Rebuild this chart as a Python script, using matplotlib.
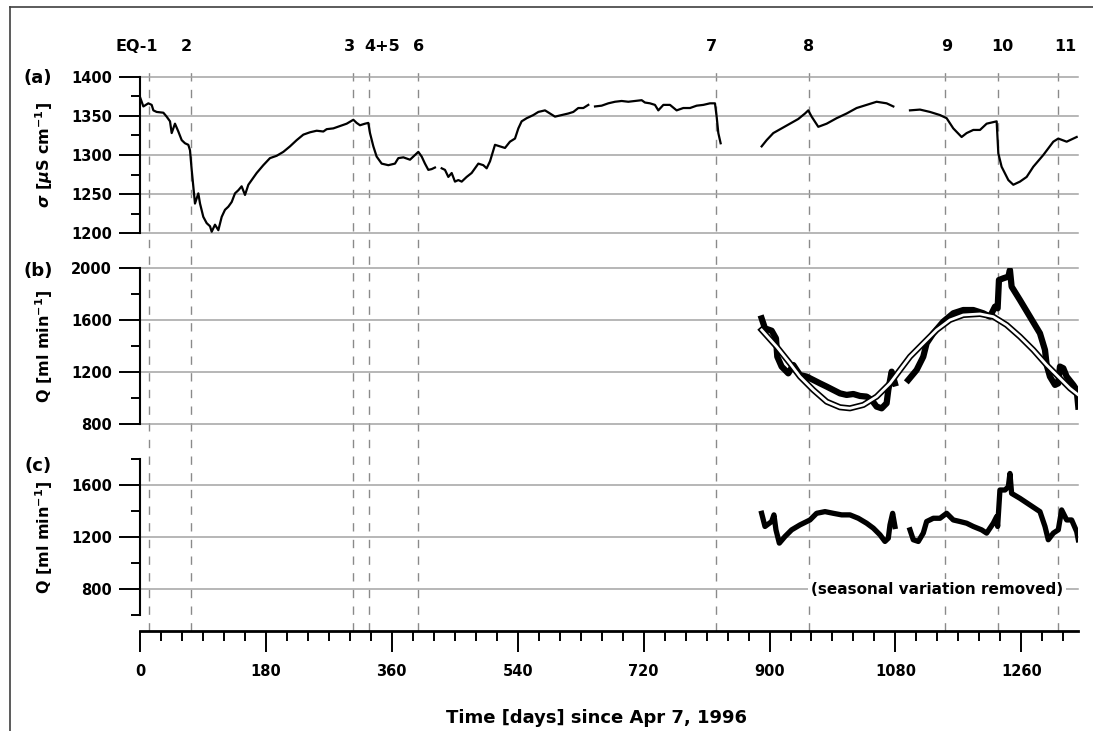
import numpy as np
import matplotlib
matplotlib.use("Agg")
import matplotlib.pyplot as plt
from matplotlib.lines import Line2D
from matplotlib.ticker import MultipleLocator, FixedLocator

nan = np.nan

# Evenements (jours depuis le 7 avril 1996)
jours_evenements = [13, 72.5, 305, 328, 398, 823, 956.5, 1151, 1226.5, 1313]
noms_evenements = ["EQ-1", "2", "3", "4+5", "6", "7", "8", "9", "10", "11"]

# (a) conductivite electrique [uS/cm]
jours_sigma = [0, 4.8, 11.9, 16.7, 19.1, 23.8, 33.4, 38.1, 42.9, 45.3, 50.0, 54.8, 59.6,
               64.3, 69.1, 71.5, 73.9, 76.2, 78.6, 83.4, 85.8, 90.5, 95.3, 100.1, 102.5,
               107.2, 112, 116.8, 121.5, 126.3, 131.1, 135.8, 140.6, 145.3, 150.1, 154.9,
               159.6, 166.8, 176.3, 185.8, 195.4, 204.9, 214.4, 224, 233.5, 243, 252.6,
               262.1, 266.9, 276.4, 285.9, 295.5, 305, 309.7, 314.5, 321.7, 326.4, 328.8,
               333.6, 338.3, 345.5, 355, 364.5, 369.3, 376.5, 386, 393.1, 397.9, 402.7,
               407.4, 412.2, 417, 421.7, 426,
               431.3, 436, 440.8, 445.6, 450.3, 455.1, 459.9, 467, 474.1, 483.7, 490.8,
               495.6, 500.4, 507.5, 514.7, 521.8, 528.9, 536.1, 540.9, 545.6, 552.8,
               562.3, 569.5, 579, 586.1, 593.3, 602.8, 612.3, 619.5, 626.6, 633.8, 640.9, 645,
               650.5, 660, 669.5, 679.1, 688.6, 698.1, 707.6, 717.2, 721.9, 729.1, 736.2,
               741, 748.2, 757.7, 767.2, 776.7, 786.3, 795.8, 805.3, 814.9, 822, 824.4,
               826.8, 830.1, 860,
               888.7, 895.9, 905.4, 917.3, 929.2, 941.1, 950.7, 955.4, 960.2, 969.7,
               981.7, 995.9, 1010.2, 1024.5, 1038.8, 1053.1, 1067.4, 1077, 1090,
               1100.8, 1115.1, 1129.4, 1143.7, 1153.2, 1162.7, 1174.6, 1181.8, 1191.3,
               1200.9, 1210.4, 1224.7, 1227.1, 1231.8, 1241.4, 1248.5, 1258, 1267.6,
               1277.1, 1291.4, 1305.7, 1312.8, 1324.8, 1339.1]
sigma = [1374, 1362, 1366, 1364, 1357, 1355, 1354, 1349, 1343, 1328, 1340, 1330, 1319,
         1315, 1313, 1306, 1281, 1260, 1238, 1251, 1238, 1221, 1213, 1209, 1202,
         1211, 1204, 1221, 1230, 1234, 1240, 1251, 1255, 1260, 1249, 1262,
         1268, 1277, 1287, 1296, 1299, 1304, 1311, 1319, 1326, 1329, 1331,
         1330, 1333, 1334, 1337, 1340, 1345, 1341, 1338, 1340, 1341, 1328,
         1311, 1298, 1289, 1287, 1289, 1296, 1297, 1294, 1300, 1304, 1298,
         1289, 1281, 1282, 1284, nan,
         1283, 1281, 1272, 1277, 1266, 1268, 1266, 1272, 1277, 1289, 1287,
         1283, 1292, 1313, 1311, 1309, 1317, 1321, 1334, 1343, 1347,
         1351, 1355, 1357, 1353, 1349, 1351, 1353, 1355, 1360, 1360, 1364, nan,
         1362, 1363, 1366, 1368, 1369, 1368, 1369, 1370, 1367, 1366, 1364,
         1357, 1364, 1364, 1357, 1360, 1360, 1363, 1364, 1366, 1366, 1349,
         1328, 1315, nan,
         1311, 1319, 1328, 1334, 1340, 1346, 1353, 1357, 1349, 1336,
         1340, 1347, 1353, 1360, 1364, 1368, 1366, 1362, nan,
         1357, 1358, 1355, 1351, 1347, 1334, 1323, 1328, 1332,
         1332, 1340, 1343, 1302, 1285, 1268, 1262, 1266, 1272,
         1285, 1300, 1317, 1321, 1317, 1323]

# (b) debit Q [ml/min]
jours_debit = [888.7, 893.5, 903, 909.2, 911.1, 917.3, 926.8, 934, 943.5, 953, 962.6,
               972.1, 981.7, 991.2, 1000.7, 1010.2, 1019.8, 1029.3, 1038.8, 1046, 1053.1,
               1060.3, 1067.4, 1069.8, 1074.6, 1079.3, 1090,
               1098.4, 1110.3, 1119.8, 1124.6, 1134.1, 1148.4, 1162.7, 1177, 1191.3,
               1205.6, 1215.2, 1222.3, 1226.1, 1228, 1234.2, 1241.4, 1243.7, 1246.1,
               1258, 1272.3, 1286.6, 1293.8, 1296.2, 1300.9, 1308.1, 1312.8, 1315.2,
               1320, 1324.8, 1334.3, 1339.1, 1341.4]
debit = [1615, 1538, 1520, 1461, 1320, 1244, 1192, 1256, 1179, 1167, 1141,
         1115, 1090, 1064, 1038, 1026, 1033, 1018, 1013, 987, 936,
         923, 962, 1064, 1205, 1115, nan,
         1141, 1218, 1320, 1423, 1500, 1590, 1654, 1679, 1679,
         1654, 1628, 1705, 1692, 1910, 1923, 1936, 1987, 1859,
         1756, 1628, 1500, 1372, 1256, 1167, 1103, 1115, 1244,
         1231, 1167, 1103, 1064, 936]

# (b) variation saisonniere ajustee
jours_saison = [888.7, 910.2, 929.2, 943.5, 962.6, 981.7, 1000.7, 1015, 1034.1, 1053.1,
                1072.2, 1086.5, 1100.8, 1119.8, 1138.9, 1158, 1177, 1200.9, 1219.9,
                1239, 1258, 1277.1, 1296.2, 1315.2, 1329.5, 1341.4]
saison = [1526, 1397, 1269, 1167, 1064, 974, 931, 923, 949, 1013,
          1115, 1218, 1320, 1423, 1526, 1603, 1641, 1649, 1628,
          1564, 1474, 1372, 1256, 1154, 1077, 1026]

# (c) debit sans variation saisonniere [ml/min]
jours_residu = [888.7, 893.5, 903, 906.3, 909.2, 914, 922.1, 931.6, 943.5, 957.8, 967.3,
                979.3, 991.2, 1003.1, 1015, 1026.9, 1038.8, 1048.4, 1057.9, 1065, 1069.8,
                1072.2, 1076, 1079.3, 1090,
                1100.8, 1105.5, 1112.7, 1119.8, 1124.6, 1134.1, 1143.7, 1153.2, 1162.7,
                1172.3, 1181.8, 1191.3, 1203.2, 1210.4, 1219.9, 1224.7, 1226.1, 1229.4,
                1236.6, 1241.4, 1243.7, 1246.1, 1258, 1272.3, 1286.6, 1293.8, 1298.5,
                1305.7, 1312.8, 1317.6, 1324.8, 1331.9, 1339.1, 1341.4]
residu = [1383, 1282, 1320, 1371, 1256, 1154, 1205, 1256, 1294, 1332, 1383,
          1396, 1383, 1371, 1371, 1345, 1307, 1269, 1218, 1167, 1192,
          1294, 1383, 1282, nan,
          1256, 1180, 1167, 1231, 1320, 1345, 1345, 1383, 1332,
          1320, 1307, 1282, 1256, 1231, 1307, 1358, 1282, 1562,
          1562, 1587, 1689, 1536, 1498, 1447, 1396, 1282, 1180,
          1231, 1256, 1409, 1332, 1332, 1243, 1180]

plt.rcParams['font.family'] = ['DejaVu Sans']
plt.rcParams['font.weight'] = 'bold'
plt.rcParams['mathtext.fontset'] = 'dejavusans'

H = 731.0
W_px = 1093.0
gauche = 140 / W_px
largeur = (1078 - 140) / W_px
xmax = 1341
gris = '#a3a3a3'

fig = plt.figure(figsize=(10.93, 7.31), dpi=100)

# axe transparent pour les lignes d'evenements
ax_ev = fig.add_axes([gauche, 1 - 631 / H, largeur, (631 - 65) / H])
ax_ev.set_xlim(0, xmax)
ax_ev.set_ylim(0, 1)
ax_ev.axis('off')
decalages = [-9, -3, -3, 9, 0, -3, 0, 1, 3, 5]
for d, nom, dx in zip(jours_evenements, noms_evenements, decalages):
    ax_ev.axvline(d, color='#8a8a8a', lw=1.0, ls=(0, (6, 6)))
    ax_ev.annotate(nom, xy=(d, 1), xycoords=('data', 'axes fraction'),
                   xytext=(dx, 13), textcoords='offset points',
                   ha='center', va='center', fontsize=11.5, fontweight='bold')

ax_a = fig.add_axes([gauche, 1 - 233.3 / H, largeur, (233.3 - 76.7) / H])
ax_b = fig.add_axes([gauche, 1 - 424.3 / H, largeur, (424.3 - 268.3) / H])
ax_c = fig.add_axes([gauche, 1 - 615.3 / H, largeur, (615.3 - 459) / H])

reglages = [
    (ax_a, (1200, 1400), [1200, 1250, 1300, 1350, 1400], [1225, 1275, 1325, 1375],
     r'$\sigma$ [$\mu$S cm$^{\mathbf{-1}}$]', '(a)', 78),
    (ax_b, (800, 2000), [800, 1200, 1600, 2000], [1000, 1400, 1800],
     r'Q [ml min$^{\mathbf{-1}}$]', '(b)', 271),
    (ax_c, (600, 1800), [800, 1200, 1600], [600, 1000, 1400, 1800],
     r'Q [ml min$^{\mathbf{-1}}$]', '(c)', 466),
]
for ax, ylim, majeurs, mineurs, titre, lettre, y_lettre in reglages:
    ax.set_facecolor('none')
    ax.set_xlim(0, xmax)
    ax.set_ylim(*ylim)
    ax.yaxis.set_major_locator(FixedLocator(majeurs))
    ax.yaxis.set_minor_locator(FixedLocator(mineurs))
    for cote in ['top', 'right', 'bottom']:
        ax.spines[cote].set_visible(False)
    ax.spines['left'].set_linewidth(1.5)
    ax.tick_params(axis='y', which='major', length=15, width=1.4, pad=5, labelsize=10.5)
    ax.tick_params(axis='y', which='minor', length=6.5, width=1.4)
    ax.grid(axis='y', which='major', color=gris, lw=1.1)
    for ligne in ax.get_ygridlines():
        ligne.set_clip_on(False)
    ax.set_ylabel(titre, fontsize=11.5, fontweight='bold')
    ax.yaxis.set_label_coords(-0.091, 0.5)
    fig.text(38 / W_px, 1 - y_lettre / H, lettre, fontsize=13, fontweight='bold',
             ha='center', va='center')

ax_a.tick_params(axis='x', which='both', bottom=False, labelbottom=False)
ax_b.tick_params(axis='x', which='both', bottom=False, labelbottom=False)

# axe des temps sous le panneau (c)
ax_c.spines['bottom'].set_visible(True)
ax_c.spines['bottom'].set_position(('outward', 11.3))
ax_c.spines['bottom'].set_linewidth(2)
ax_c.xaxis.set_major_locator(MultipleLocator(180))
ax_c.xaxis.set_minor_locator(MultipleLocator(30))
ax_c.tick_params(axis='x', which='major', length=15, width=1.4, pad=9, labelsize=10.5)
ax_c.tick_params(axis='x', which='minor', length=7.5, width=1.4)
ax_c.set_xlabel('Time [days] since Apr 7, 1996', fontsize=13, fontweight='bold')
ax_c.xaxis.set_label_coords((597 - 140) / 938, -(709 - 615.3) / 156.3)

ax_a.plot(jours_sigma, sigma, color='black', lw=1.6, zorder=3)
ax_b.plot(jours_debit, debit, color='black', lw=4.5, zorder=3)
ax_b.plot(jours_saison, saison, color='black', lw=4.4, zorder=4)
ax_b.plot(jours_saison, saison, color='white', lw=2.0, zorder=5)
ax_c.plot(jours_residu, residu, color='black', lw=3.8, zorder=3)

ax_c.text(1139, 800, '(seasonal variation removed)', fontsize=11, fontweight='bold',
          ha='center', va='center', zorder=6,
          bbox=dict(facecolor='white', edgecolor='none', pad=2))

# cadre de la figure
fig.add_artist(Line2D([10 / W_px, 10 / W_px], [0, 1 - 7 / H], transform=fig.transFigure,
                      color='#404040', lw=1.2))
fig.add_artist(Line2D([10 / W_px, 1], [1 - 7 / H, 1 - 7 / H], transform=fig.transFigure,
                      color='#404040', lw=1.2))

fig.savefig('out.png', dpi=100)
